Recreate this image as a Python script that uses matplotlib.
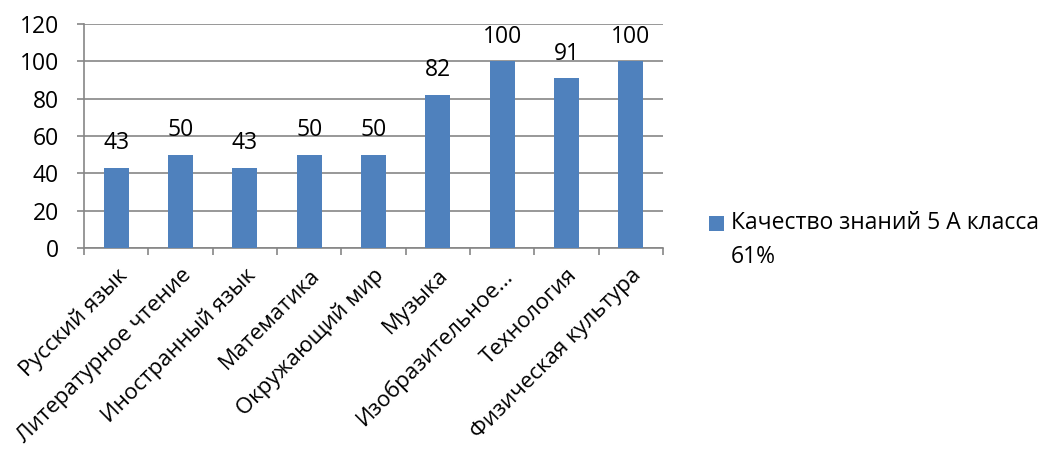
import matplotlib.pyplot as plt
import numpy as np
from matplotlib.legend_handler import HandlerPatch
from matplotlib.patches import Rectangle

plt.rcParams["font.family"] = ["Open Sans", "DejaVu Sans"]

subjects = [
    "Русский язык",
    "Литературное чтение",
    "Иностранный язык",
    "Математика",
    "Окружающий мир",
    "Музыка",
    "Изобразительное...",
    "Технология",
    "Физическая культура",
]
quality = [43, 50, 43, 50, 50, 82, 100, 91, 100]
series_name = "Качество знаний 5 А класса\n61%"

BAR = "#4F81BD"
GRID = "#868686"
FS = 16.5
LINESP = 1.55


def top_square(legend, orig_handle, xdescent, ydescent, width, height, fontsize):
    # put the swatch next to the first line of the two-line label
    shift = 0.5 * LINESP * fontsize
    return Rectangle((-xdescent, -ydescent + shift), width, height)


fig = plt.figure(figsize=(10.41, 4.53), dpi=100)
ax = fig.add_axes([84 / 1041, 1 - 248 / 453, (663 - 84) / 1041, (248 - 24) / 453])

x = np.arange(len(subjects))
bars = ax.bar(x, quality, width=0.39, color=BAR, zorder=3, label=series_name)

for xi, v in zip(x, quality):
    ax.annotate(str(v), (xi, v), xytext=(0, 9), textcoords="offset points",
                ha="center", va="bottom", fontsize=FS)

ax.set_xlim(-0.5, len(subjects) - 0.5)
ax.set_ylim(0, 120)
ax.set_yticks(range(0, 121, 20))
ax.tick_params(axis="y", labelsize=FS, length=5, color=GRID, width=1.2, pad=13)
ax.grid(axis="y", color=GRID, linewidth=1.2, zorder=0)

# category ticks at the boundaries, labels at the centres
ax.set_xticks(np.arange(-0.5, len(subjects), 1.0))
ax.set_xticklabels([])
ax.tick_params(axis="x", length=5, color=GRID, width=1.2)
ax.set_xticks(x, minor=True)
ax.set_xticklabels(subjects, minor=True, rotation=45, ha="right",
                   rotation_mode="anchor", fontsize=16)
ax.tick_params(axis="x", which="minor", length=0, pad=12)

for s in ["top", "right"]:
    ax.spines[s].set_visible(False)
for s in ["left", "bottom"]:
    ax.spines[s].set_color(GRID)
    ax.spines[s].set_linewidth(1.2)

swatch = bars.patches[0]
leg = fig.legend(handles=[swatch], labels=[series_name], loc="upper left",
                 bbox_to_anchor=(700 / 1041, 1 - 202 / 453), frameon=False,
                 fontsize=FS, handlelength=0.65, handleheight=0.65,
                 handletextpad=0.3, borderaxespad=0,
                 handler_map={swatch: HandlerPatch(patch_func=top_square)})
for t in leg.get_texts():
    t.set_linespacing(LINESP)

fig.savefig("out.png", dpi=100)
